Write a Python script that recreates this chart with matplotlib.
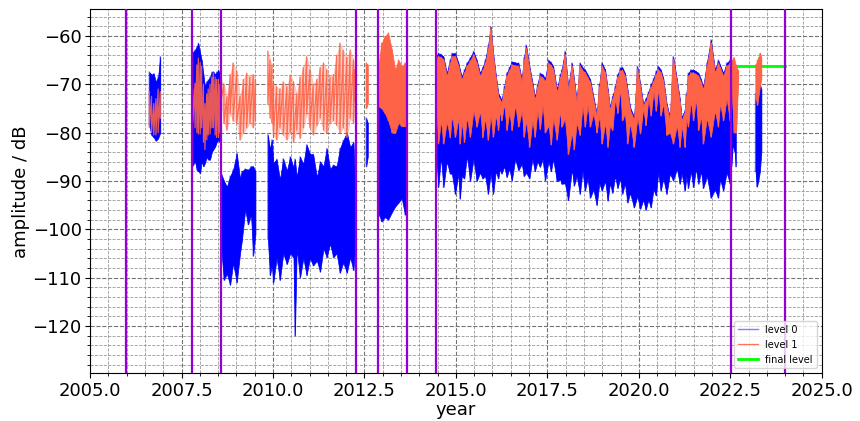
import numpy as np
import matplotlib
matplotlib.use('Agg')
import matplotlib.pyplot as plt
from matplotlib.ticker import MultipleLocator

# ---- level 0 (blue): time, upper and lower envelope per data block ----
l0_t1 = [2006.62, 2006.68, 2006.74, 2006.80, 2006.86, 2006.92]
l0_hi1 = [-67.5, -68.0, -67.8, -69.5, -68.5, -64.3]
l0_lo1 = [-78.5, -80.5, -81.0, -81.7, -81.2, -80.0]

l0_t2 = [2007.79, 2007.87, 2007.92, 2007.96, 2008.01, 2008.05, 2008.10, 2008.14, 2008.19,
         2008.23, 2008.28, 2008.33, 2008.37, 2008.42, 2008.46, 2008.51, 2008.55]
l0_hi2 = [-63.5, -62.9, -62.2, -61.5, -63.5, -65.0, -68.0, -70.5, -69.5,
          -69.1, -68.5, -67.5, -67.4, -68.0, -67.5, -67.1, -68.0]
l0_lo2 = [-87.0, -86.0, -87.7, -88.0, -88.4, -86.0, -87.0, -86.3, -85.0,
          -85.6, -85.6, -84.0, -83.5, -82.9, -82.0, -81.5, -82.0]

l0_t3 = [2008.58, 2008.66, 2008.74, 2008.83, 2008.91, 2009.01, 2009.10, 2009.15, 2009.24,
         2009.32, 2009.40, 2009.46, 2009.52]
l0_hi3 = [-88.4, -90.0, -91.2, -89.0, -87.7, -84.3, -89.5, -88.0, -87.5,
          -87.7, -87.0, -87.0, -88.0]
l0_lo3 = [-103.7, -110.5, -109.2, -111.5, -107.0, -111.0, -105.0, -102.3, -96.0,
          -99.0, -97.0, -105.5, -101.0]

l0_t4 = [2009.86, 2009.92, 2009.97, 2010.01, 2010.10, 2010.19, 2010.28, 2010.38, 2010.47,
         2010.56, 2010.60, 2010.65, 2010.74, 2010.83, 2010.92, 2011.01, 2011.10, 2011.20,
         2011.29, 2011.38, 2011.47, 2011.56, 2011.65, 2011.74, 2011.83, 2011.92, 2012.02,
         2012.11, 2012.20, 2012.24]
l0_hi4 = [-80.5, -83.4, -81.5, -86.3, -85.5, -89.7, -85.4, -87.9, -85.0,
          -87.2, -85.5, -89.2, -85.0, -86.5, -82.5, -84.4, -84.5, -89.2,
          -86.0, -87.0, -83.3, -87.5, -86.7, -87.0, -83.3, -81.6, -80.0,
          -83.0, -82.0, -89.0]
l0_lo4 = [-102.0, -109.5, -107.5, -111.0, -106.0, -110.5, -105.0, -107.2, -105.0,
          -105.8, -122.0, -104.0, -110.0, -106.0, -109.5, -106.0, -107.5, -106.5,
          -108.8, -104.0, -105.8, -103.0, -105.8, -105.0, -109.0, -106.9, -109.0,
          -105.8, -108.5, -104.0]

l0_t5 = [2012.55, 2012.59]
l0_hi5 = [-77.0, -78.0]
l0_lo5 = [-87.0, -85.0]

l0_t6 = [2012.88, 2012.97, 2013.06, 2013.15, 2013.25, 2013.34, 2013.43, 2013.52, 2013.61, 2013.65]
l0_hi6 = [-69.8, -67.5, -69.0, -71.0, -76.0, -74.0, -74.3, -72.5, -75.0, -76.0]
l0_lo6 = [-96.7, -98.4, -97.5, -98.0, -96.5, -95.3, -94.5, -93.6, -97.0, -96.0]

l0_t7 = [2014.48, 2014.52, 2014.59, 2014.66, 2014.75, 2014.84, 2014.89, 2014.98, 2015.07, 2015.11,
         2015.16, 2015.23, 2015.30, 2015.39, 2015.48, 2015.57, 2015.66, 2015.73, 2015.80, 2015.88,
         2015.95, 2016.02, 2016.09, 2016.16, 2016.20, 2016.25, 2016.32, 2016.39, 2016.46, 2016.53,
         2016.62, 2016.71, 2016.80, 2016.86, 2016.92, 2017.01, 2017.09, 2017.16, 2017.23, 2017.30,
         2017.37, 2017.44, 2017.53, 2017.60, 2017.66, 2017.76, 2017.85, 2017.89, 2017.98, 2018.07,
         2018.17, 2018.23, 2018.30, 2018.39, 2018.46, 2018.53, 2018.60, 2018.67, 2018.76, 2018.85,
         2018.92, 2018.99, 2019.08, 2019.15, 2019.21, 2019.28, 2019.35, 2019.42, 2019.49, 2019.55,
         2019.62, 2019.69, 2019.76, 2019.87, 2019.96, 2020.04, 2020.12, 2020.19, 2020.26, 2020.33,
         2020.40, 2020.47, 2020.53, 2020.60, 2020.67, 2020.76, 2020.85, 2020.94, 2021.04, 2021.12,
         2021.17, 2021.26, 2021.30, 2021.35, 2021.42, 2021.49, 2021.56, 2021.63, 2021.70, 2021.76,
         2021.86, 2021.97, 2022.08, 2022.17, 2022.22, 2022.31, 2022.40, 2022.49]
l0_hi7 = [-64.0, -63.6, -63.8, -64.3, -67.7, -65.0, -63.6, -63.6, -65.6, -67.0,
          -68.4, -67.0, -65.6, -64.5, -63.2, -65.0, -67.7, -66.5, -65.0, -62.0,
          -58.1, -63.6, -68.0, -71.9, -72.5, -73.2, -70.5, -67.7, -66.5, -65.3,
          -65.5, -65.6, -69.0, -64.5, -61.9, -66.3, -69.5, -72.6, -70.0, -67.7,
          -68.0, -68.8, -65.0, -65.5, -66.3, -71.0, -68.0, -67.0, -63.2, -70.5,
          -65.6, -69.0, -73.2, -65.6, -66.5, -67.0, -68.0, -69.0, -72.6, -76.1,
          -70.0, -65.6, -67.0, -71.0, -74.7, -72.5, -70.5, -68.0, -66.6, -66.5,
          -67.7, -71.0, -74.7, -76.8, -66.3, -70.0, -74.0, -73.0, -71.6, -70.0,
          -68.8, -67.3, -66.3, -67.0, -68.8, -74.0, -76.8, -64.3, -69.0, -73.0,
          -76.8, -75.4, -72.0, -67.7, -67.0, -67.0, -67.3, -67.7, -69.0, -70.5,
          -65.6, -60.8, -67.0, -65.0, -66.0, -67.7, -65.6, -65.0]
l0_lo7 = [-86.5, -91.3, -85.0, -91.3, -86.0, -88.5, -88.5, -92.7, -88.5, -93.7,
          -89.0, -89.5, -84.8, -90.0, -85.5, -90.0, -88.3, -89.5, -89.0, -92.7,
          -88.5, -92.7, -88.0, -89.5, -87.6, -88.5, -87.0, -89.2, -87.5, -89.9,
          -85.5, -87.8, -86.5, -89.0, -88.3, -89.5, -85.5, -88.0, -86.0, -87.1,
          -85.5, -89.9, -86.0, -88.0, -85.5, -90.0, -89.7, -90.6, -90.5, -94.0,
          -87.6, -91.0, -89.0, -92.7, -88.0, -92.0, -89.5, -93.5, -91.8, -95.0,
          -90.5, -92.0, -90.0, -94.1, -90.5, -92.5, -89.0, -91.5, -89.5, -92.7,
          -90.5, -94.5, -92.5, -95.5, -93.2, -95.8, -93.9, -96.0, -93.9, -95.5,
          -91.8, -93.0, -88.3, -92.0, -89.5, -92.7, -88.5, -89.9, -87.5, -90.6,
          -88.5, -92.0, -89.0, -91.5, -88.0, -91.3, -87.5, -90.6, -88.0, -91.5,
          -89.0, -93.5, -91.8, -93.5, -89.7, -92.0, -88.3, -90.5]

l0_t8 = [2022.53, 2022.57, 2022.62, 2022.65]
l0_hi8 = [-65.0, -66.0, -68.0, -69.0]
l0_lo8 = [-87.0, -82.5, -84.0, -87.0]

l0_t9 = [2023.19, 2023.23, 2023.27, 2023.31, 2023.35]
l0_hi9 = [-72.0, -70.5, -69.0, -70.0, -71.0]
l0_lo9 = [-88.0, -91.2, -89.8, -88.0, -84.0]

# ---- level 1 (tomato) ----
l1_t1 = [2006.62, 2006.68, 2006.74, 2006.80, 2006.86, 2006.92]
l1_hi1 = [-71.5, -72.5, -74.0, -73.0, -71.0, -71.5]
l1_lo1 = [-79.0, -80.0, -80.5, -80.5, -80.0, -77.0]

l1_t2 = [2007.81, 2007.87, 2007.92, 2007.96, 2008.01, 2008.05, 2008.10, 2008.14, 2008.19,
         2008.23, 2008.28, 2008.33, 2008.37, 2008.42, 2008.46, 2008.51, 2008.55]
l1_hi2 = [-71.0, -69.8, -66.0, -64.6, -65.5, -66.3, -70.0, -74.0, -72.0,
          -71.0, -70.0, -68.5, -67.7, -68.5, -69.0, -69.0, -70.0]
l1_lo2 = [-78.0, -79.0, -80.0, -80.3, -80.3, -79.0, -82.0, -83.5, -81.5,
          -80.5, -80.3, -79.0, -79.0, -80.5, -81.0, -81.0, -80.0]

l1_t3 = [2008.58, 2008.66, 2008.74, 2008.83, 2008.91, 2009.01, 2009.10, 2009.19, 2009.28,
         2009.37, 2009.46, 2009.52]
l1_hi3 = [-69.1, -70.0, -72.6, -68.0, -65.6, -67.3, -72.5, -69.0, -67.7,
          -68.5, -68.0, -69.0]
l1_lo3 = [-73.5, -78.0, -79.5, -76.0, -77.6, -78.0, -81.5, -80.0, -79.0,
          -78.0, -79.0, -77.5]

l1_t4 = [2009.86, 2009.92, 2009.97, 2010.01, 2010.10, 2010.19, 2010.28, 2010.38, 2010.47,
         2010.56, 2010.65, 2010.74, 2010.83, 2010.92, 2011.01, 2011.10, 2011.20, 2011.29,
         2011.38, 2011.47, 2011.56, 2011.65, 2011.74, 2011.83, 2011.92, 2012.02, 2012.11,
         2012.20, 2012.24]
l1_hi4 = [-63.2, -65.0, -66.0, -69.8, -70.5, -71.0, -69.5, -70.5, -68.1,
          -69.5, -72.0, -68.5, -66.5, -64.3, -67.0, -70.0, -69.0, -66.5,
          -65.6, -67.0, -68.5, -68.0, -64.0, -61.5, -63.0, -64.5, -62.9,
          -65.0, -67.0]
l1_lo4 = [-74.0, -77.0, -78.0, -80.5, -81.5, -79.0, -80.5, -81.5, -80.0,
          -82.0, -79.5, -81.2, -79.0, -76.1, -79.0, -80.5, -78.5, -77.0,
          -79.5, -80.1, -78.0, -77.5, -78.5, -80.0, -79.0, -81.0, -77.0,
          -78.0, -73.5]

l1_t5 = [2012.55, 2012.59]
l1_hi5 = [-65.6, -66.0]
l1_lo5 = [-75.0, -74.0]

l1_t6 = [2012.89, 2012.97, 2013.06, 2013.15, 2013.25, 2013.34, 2013.43, 2013.52, 2013.61, 2013.65]
l1_hi6 = [-65.6, -61.5, -60.1, -59.4, -62.9, -67.0, -65.0, -66.3, -65.6, -67.0]
l1_lo6 = [-74.6, -75.0, -76.0, -77.5, -80.0, -80.1, -78.0, -78.7, -78.7, -77.0]

l1_t7 = l0_t7
l1_hi7 = [-64.6, -64.2, -64.4, -64.9, -68.3, -65.6, -64.2, -64.2, -66.2, -67.6,
          -69.0, -67.6, -66.2, -65.1, -63.8, -65.6, -68.3, -67.1, -65.6, -62.6,
          -58.5, -64.2, -68.6, -72.5, -73.1, -73.8, -71.1, -68.3, -67.1, -65.9,
          -66.1, -66.2, -69.6, -65.1, -62.5, -66.9, -70.1, -73.2, -70.6, -68.3,
          -68.6, -69.4, -65.6, -66.1, -66.9, -71.6, -68.6, -67.6, -63.8, -71.1,
          -66.2, -69.6, -73.8, -66.2, -67.1, -67.6, -68.6, -69.6, -73.2, -76.7,
          -70.6, -66.2, -67.6, -71.6, -75.3, -73.1, -71.1, -68.6, -67.2, -67.1,
          -68.3, -71.6, -75.3, -77.4, -66.9, -70.6, -74.6, -73.6, -72.2, -70.6,
          -69.4, -67.9, -66.9, -67.6, -69.4, -74.6, -77.4, -64.9, -69.6, -73.6,
          -77.4, -76.0, -72.6, -68.3, -67.6, -67.6, -67.9, -68.3, -69.6, -71.1,
          -66.2, -61.4, -67.6, -65.6, -66.6, -68.3, -66.2, -65.6]
l1_lo7 = [-77.0, -82.3, -77.5, -82.3, -77.8, -81.0, -76.4, -80.9, -77.0, -82.3,
          -77.8, -82.0, -76.8, -80.9, -75.5, -78.8, -75.5, -81.0, -77.0, -81.5,
          -76.5, -80.9, -76.4, -79.5, -75.5, -77.5, -74.0, -79.5, -75.7, -79.5,
          -74.3, -78.8, -75.5, -80.9, -77.5, -83.0, -77.5, -80.9, -75.5, -79.3,
          -74.3, -80.0, -78.5, -82.5, -77.0, -81.5, -75.5, -78.8, -77.1, -84.5,
          -80.0, -83.5, -78.0, -80.5, -74.5, -78.8, -74.3, -78.8, -76.0, -80.0,
          -76.5, -82.3, -78.0, -83.0, -78.5, -79.5, -73.0, -76.0, -71.0, -77.5,
          -76.0, -82.3, -78.0, -83.0, -77.0, -80.2, -75.0, -78.5, -73.0, -76.5,
          -71.5, -75.5, -70.9, -76.5, -74.0, -80.5, -80.0, -82.3, -78.5, -83.0,
          -78.5, -83.0, -77.0, -78.8, -73.5, -77.5, -73.0, -79.5, -76.5, -82.3,
          -77.0, -80.9, -75.5, -78.8, -74.0, -77.5, -73.0, -77.5]

l1_t8 = [2022.54, 2022.60, 2022.66, 2022.72]
l1_hi8 = [-65.0, -64.5, -66.3, -67.2]
l1_lo8 = [-72.0, -80.0, -80.0, -68.5]

l1_t9 = [2023.20, 2023.24, 2023.28, 2023.32, 2023.35]
l1_hi9 = [-66.0, -65.0, -64.5, -63.6, -64.5]
l1_lo9 = [-73.0, -74.3, -72.0, -70.0, -69.0]

# final level
final_t = [2022.51, 2024.0]
final_db = [-66.3, -66.3]

# vertical event markers
events = [2005.98, 2007.78, 2008.57, 2012.27, 2012.87, 2013.66, 2014.47, 2022.51, 2024.0]

level0 = [(l0_t1, l0_hi1, l0_lo1), (l0_t2, l0_hi2, l0_lo2), (l0_t3, l0_hi3, l0_lo3),
          (l0_t4, l0_hi4, l0_lo4), (l0_t5, l0_hi5, l0_lo5), (l0_t6, l0_hi6, l0_lo6),
          (l0_t7, l0_hi7, l0_lo7), (l0_t8, l0_hi8, l0_lo8), (l0_t9, l0_hi9, l0_lo9)]
level1 = [(l1_t1, l1_hi1, l1_lo1), (l1_t2, l1_hi2, l1_lo2), (l1_t3, l1_hi3, l1_lo3),
          (l1_t4, l1_hi4, l1_lo4), (l1_t5, l1_hi5, l1_lo5), (l1_t6, l1_hi6, l1_lo6),
          (l1_t7, l1_hi7, l1_lo7), (l1_t8, l1_hi8, l1_lo8), (l1_t9, l1_hi9, l1_lo9)]
# how opaque the body of each level 1 block is (sparse line blocks are lighter)
l1_fill_alpha = [0.0, 0.0, 0.3, 0.3, 1.0, 1.0, 1.0, 1.0, 1.0]


def draw_block(ax, t, hi, lo, color, alpha, lw, z, label=None, fill_alpha=1.0):
    t = np.asarray(t)
    if fill_alpha > 0:
        ax.fill_between(t, lo, hi, color=color, alpha=fill_alpha, lw=0.5, zorder=z)
    # zigzag between upper and lower values
    zt = np.repeat(t, 2)
    zv = np.column_stack([hi, lo]).ravel()
    ax.plot(zt, zv, color=color, alpha=alpha, lw=lw, zorder=z, label=label)


fig = plt.figure(figsize=(8.6, 4.21), dpi=100)
ax = fig.add_axes([0.1047, 0.1133, 0.8508, 0.8646])

for i, (t, hi, lo) in enumerate(level0):
    draw_block(ax, t, hi, lo, 'blue', 0.5, 1.0, 2.0, label='level 0' if i == 0 else None)

ax.plot(final_t, final_db, color='lime', lw=2, zorder=2.05, label='final level')

for i, (t, hi, lo) in enumerate(level1):
    draw_block(ax, t, hi, lo, 'tomato', 0.9, 0.9, 2.1,
               label='level 1' if i == 0 else None, fill_alpha=l1_fill_alpha[i])

for ev in events:
    ax.axvline(ev, color='darkviolet', lw=1.6, zorder=3)

ax.set_xlim(2005, 2025)
ax.set_ylim(-129.8, -54.5)
ax.xaxis.set_major_locator(MultipleLocator(2.5))
ax.xaxis.set_minor_locator(MultipleLocator(0.5))
ax.yaxis.set_major_locator(MultipleLocator(10))
ax.yaxis.set_minor_locator(MultipleLocator(2))
ax.grid(which='major', color='0.45', ls='--', lw=0.8)
ax.grid(which='minor', color='0.6', ls='--', lw=0.6)
ax.set_axisbelow(True)
ax.tick_params(labelsize=13, pad=2.5)
ax.set_xlabel('year', fontsize=13, labelpad=1)
ax.set_ylabel('amplitude / dB', fontsize=13, labelpad=2)

h, l = ax.get_legend_handles_labels()
order = [l.index('level 0'), l.index('level 1'), l.index('final level')]
ax.legend([h[k] for k in order], [l[k] for k in order], loc='lower right', fontsize=7)

fig.savefig('out.png', dpi=100)
